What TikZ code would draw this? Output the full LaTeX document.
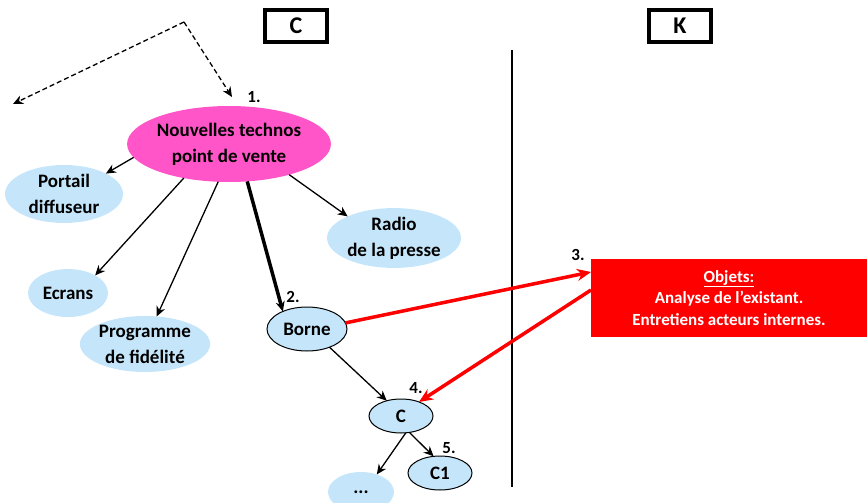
\documentclass[tikz,border=0pt]{standalone}
\usepackage{fontspec}
\setmainfont{Carlito}
\usetikzlibrary{arrows.meta,shapes.geometric}
\definecolor{pinkn}{HTML}{FF55C8}
\definecolor{bluen}{HTML}{C5E6FA}
\begin{document}
\begin{tikzpicture}[x=1pt,y=-1pt,
  every node/.style={font=\bfseries\fontsize{19}{26}\selectfont, inner sep=0pt, outer sep=0pt},
  blob/.style={ellipse, fill=bluen, align=center},
  blobb/.style={blob, draw=black, line width=1pt},
  hbox/.style={draw=black, line width=4pt, minimum width=62pt, minimum height=32pt, font=\bfseries\fontsize{24}{24}\selectfont},
  arr/.style={-{Stealth[length=10pt,width=9pt]}, line width=1.3pt},
  redarr/.style={-{Stealth[length=14pt,width=12pt]}, line width=3.5pt, red},
  num/.style={font=\bfseries\fontsize{17}{17}\selectfont}
]
\useasboundingbox (0,0) rectangle (867,503);
% header boxes
\node[hbox] (C) at (296,26) {C};
\node[hbox] (K) at (680,26) {K};
\coordinate (vt) at (512,50);
\coordinate (vb) at (512,487);
\draw[line width=1.2pt] (vt) -- (vb);
% ellipses
\node[ellipse, fill=pinkn, minimum width=198pt, minimum height=76pt, align=center] (P) at (229,144) {Nouvelles technos\\point de vente};
\node[blob, minimum width=118pt, minimum height=58pt] (PD) at (64,194) {Portail\\diffuseur};
\node[blob, minimum width=80pt, minimum height=48pt] (E) at (68,293) {Ecrans};
\node[blob, minimum width=120pt, minimum height=56pt] (PF) at (145,344) {Programme\\de fidélité};
\node[blob, minimum width=134pt, minimum height=52pt] (R) at (394,238) {Radio\\de la presse};
\node[blobb, minimum width=80pt, minimum height=44pt] (B) at (307,329) {Borne};
\node[blobb, minimum width=64pt, minimum height=34pt] (CC) at (401,416) {C};
\node[blobb, minimum width=64pt, minimum height=34pt] (C1) at (440,473) {C1};
\node[blob, minimum width=66pt, minimum height=40pt] (D) at (361,492) {...};
% red box
\node[fill=red, text=white, minimum width=276pt, minimum height=78pt, align=center,
  font=\bfseries\fontsize{17}{21.5}\selectfont] (O) at (729,298) {\underline{Objets:}\\Analyse de l’existant.\\Entretiens acteurs internes.};
% numbers
\node[num] (n1) at (254,97) {1.};
\node[num] (n2) at (293,297) {2.};
\node[num] (n3) at (578,255) {3.};
\node[num] (n4) at (416,388) {4.};
\node[num] (n5) at (449,448) {5.};
% dashed arrows
\coordinate (apex) at (184,22);
\coordinate (dl) at (13,104);
\coordinate (dr) at (232,97);
\draw[arr, dash pattern=on 5pt off 3pt] (apex) -- (dl);
\draw[arr, dash pattern=on 5pt off 3pt] (apex) -- (dr);
% black arrows
\draw[arr] (P.188) -- (PD.26);
\draw[arr] (P.217) -- (E.33);
\draw[arr] (P.254) -- (PF.67);
\draw[arr, line width=3.5pt] (P.296) -- (B.144);
\draw[arr] (P.333) -- (R.155);
\draw[arr] (B.321) -- (CC.133);
\draw[arr] (CC.286) -- (D.48);
\draw[arr] (CC.297) -- (C1.111);
% red arrows
\draw[redarr] (B.9) -- (O.west |- 0,272);
\draw[redarr] (O.west |- 0,290) -- (CC.38);
\end{tikzpicture}
\end{document}
